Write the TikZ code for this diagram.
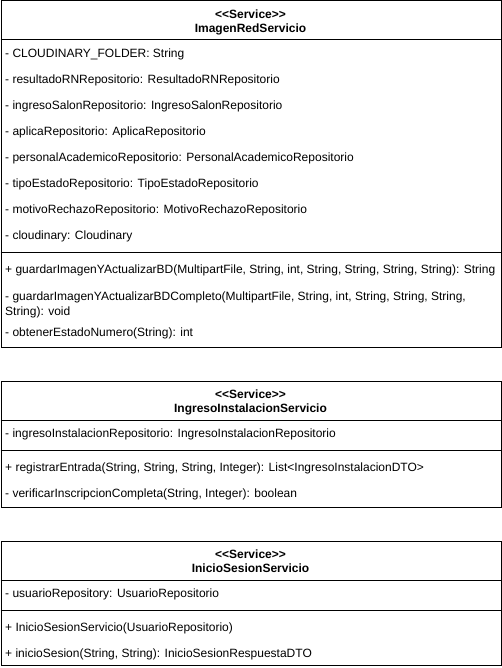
\documentclass[tikz,border=0pt]{standalone}
\usepackage{fontspec}
\setmainfont{Liberation Sans}
\begin{document}
\begin{tikzpicture}[x=1pt,y=-1pt,
  classbox/.style={draw,line width=1pt,anchor=north west,inner sep=0pt,minimum width=500pt},
  member/.style={anchor=base west,inner sep=0pt,font=\fontsize{12}{14.5}\selectfont},
  member2/.style={anchor=west,inner sep=0pt,font=\fontsize{12}{14.5}\selectfont,align=left},
  head/.style={anchor=base,inner sep=0pt,font=\fontsize{12}{14.5}\selectfont\bfseries},
  divider/.style={line width=1pt}]
\useasboundingbox (0,0) rectangle (502,668);

% ---------------- Class 1 ----------------
\node[classbox,minimum height=346pt] (c1) at (0.5,0.5) {};
\node[head] (c1s) at (250.5,18.5) {<{}<Service>{}>};
\node[head] (c1n) at (250.5,32.5) {ImagenRedServicio};
\draw[divider] (c1.west |- 0,40) -- (c1.east |- 0,40);
\node[member] (c1a1) at (5,57.8) {- CLOUDINARY\_FOLDER: String};
\node[member] (c1a2) at (5,83.8) {- resultadoRNRepositorio: ResultadoRNRepositorio};
\node[member] (c1a3) at (5,109.8) {- ingresoSalonRepositorio: IngresoSalonRepositorio};
\node[member] (c1a4) at (5,135.8) {- aplicaRepositorio: AplicaRepositorio};
\node[member] (c1a5) at (5,161.8) {- personalAcademicoRepositorio: PersonalAcademicoRepositorio};
\node[member] (c1a6) at (5,187.8) {- tipoEstadoRepositorio: TipoEstadoRepositorio};
\node[member] (c1a7) at (5,213.8) {- motivoRechazoRepositorio: MotivoRechazoRepositorio};
\node[member] (c1a8) at (5,239.8) {- cloudinary: Cloudinary};
\draw[divider] (c1.west |- 0,252) -- (c1.east |- 0,252);
\node[member] (c1m1) at (5,273.8) {+ guardarImagenYActualizarBD(MultipartFile, String, int, String, String, String, String): String};
\node[member2] (c1m2) at (5,305) {- guardarImagenYActualizarBDCompleto(MultipartFile, String, int, String, String, String,\\String): void};
\node[member] (c1m3) at (5,336.5) {- obtenerEstadoNumero(String): int};

% ---------------- Class 2 ----------------
\node[classbox,minimum height=126pt] (c2) at (0.5,380.5) {};
\node[head] (c2s) at (250.5,398.5) {<{}<Service>{}>};
\node[head] (c2n) at (250.5,412.5) {IngresoInstalacionServicio};
\draw[divider] (c2.west |- 0,420) -- (c2.east |- 0,420);
\node[member] (c2a1) at (5,437.8) {- ingresoInstalacionRepositorio: IngresoInstalacionRepositorio};
\draw[divider] (c2.west |- 0,450) -- (c2.east |- 0,450);
\node[member] (c2m1) at (5,471.8) {+ registrarEntrada(String, String, String, Integer): List<IngresoInstalacionDTO>};
\node[member] (c2m2) at (5,497.8) {- verificarInscripcionCompleta(String, Integer): boolean};

% ---------------- Class 3 ----------------
\node[classbox,minimum height=124.5pt] (c3) at (0.5,540.5) {};
\node[head] (c3s) at (250.5,558.5) {<{}<Service>{}>};
\node[head] (c3n) at (250.5,572.5) {InicioSesionServicio};
\draw[divider] (c3.west |- 0,580) -- (c3.east |- 0,580);
\node[member] (c3a1) at (5,597.8) {- usuarioRepository: UsuarioRepositorio};
\draw[divider] (c3.west |- 0,610) -- (c3.east |- 0,610);
\node[member] (c3m1) at (5,631.8) {+ InicioSesionServicio(UsuarioRepositorio)};
\node[member] (c3m2) at (5,657.8) {+ inicioSesion(String, String): InicioSesionRespuestaDTO};
\end{tikzpicture}
\end{document}
